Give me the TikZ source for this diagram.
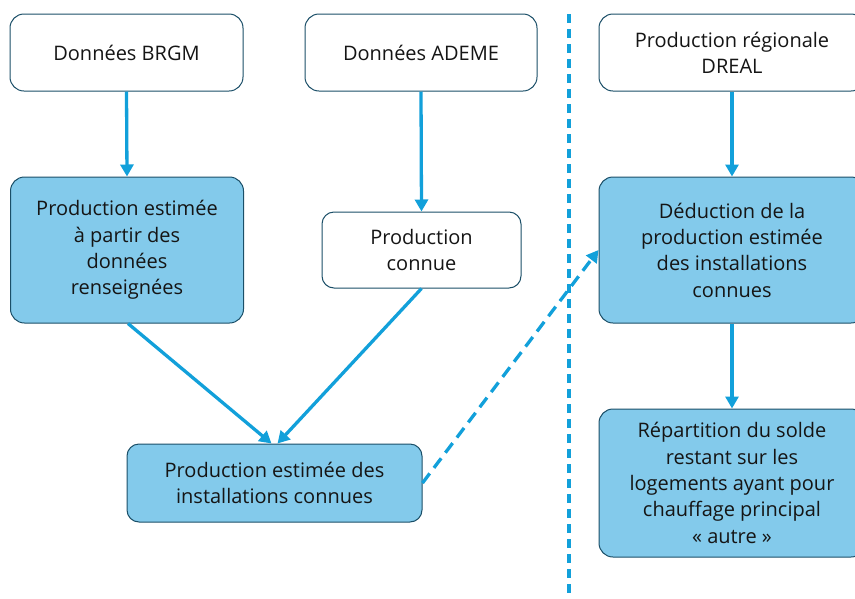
\documentclass[tikz,border=0pt]{standalone}
\usepackage{fontspec}
\setmainfont{Open Sans}
\usetikzlibrary{arrows.meta}
\definecolor{boxfill}{HTML}{83CAEB}
\definecolor{boxline}{HTML}{1B4F68}
\definecolor{arrowcol}{HTML}{12A0DA}
\definecolor{txt}{HTML}{151515}
\begin{document}
\begin{tikzpicture}[x=1pt,y=-1pt,
  box/.style={draw=boxline, line width=1pt, rounded corners=14pt, align=center,
    font=\fontsize{20}{26.3}\selectfont, text=txt, inner sep=0pt},
  plain/.style={box, fill=white},
  blue/.style={box, fill=boxfill},
  conn/.style={draw=arrowcol, line width=3.3pt, -{Triangle[length=12pt,width=13pt]}},
  dconn/.style={conn, dash pattern=on 12pt off 7pt},
  sep/.style={draw=arrowcol, line width=3.3pt, dash pattern=on 9pt off 6pt}]
\useasboundingbox (0,0) rectangle (855,598);
\node[plain, minimum width=233pt, minimum height=77pt] (brgm) at (126.5,52.5) {Données BRGM};
\node[plain, minimum width=232pt, minimum height=77pt] (ademe) at (421,52.5) {Données ADEME};
\node[plain, minimum width=266pt, minimum height=77pt] (dreal) at (732,52.5) {Production régionale\\DREAL};
\node[blue, minimum width=233pt, minimum height=146pt] (est) at (127,250) {Production estimée\\à partir des\\données\\renseignées};
\node[plain, minimum width=199pt, minimum height=76pt, rounded corners=12pt] (connue) at (421.5,250) {Production\\connue};
\node[blue, minimum width=295pt, minimum height=78pt, rounded corners=12pt] (bottom) at (274.5,483) {Production estimée des\\installations connues};
\node[blue, minimum width=266pt, minimum height=146pt] (deduc) at (732,250) {Déduction de la\\production estimée\\des installations\\connues};
\node[blue, minimum width=266pt, minimum height=148pt] (repart) at (732,483) {Répartition du solde\\restant sur les\\logements ayant pour\\chauffage principal\\« autre »};
\coordinate (septop) at (569,14);
\coordinate (sepbot) at (569,598);
\draw[sep] (septop) -- (sepbot);
\draw[conn] (brgm.south) -- (est.north);
\draw[conn] (ademe.south) -- (connue.north);
\draw[conn] (dreal.south) -- (deduc.north);
\draw[conn] (deduc.south) -- (repart.north);
\draw[conn] ([xshift=1pt]est.south) -- ([xshift=-3pt]bottom.north);
\draw[conn] (connue.south) -- ([xshift=3pt]bottom.north);
\draw[dconn] (bottom.east) -- (deduc.west);
\end{tikzpicture}
\end{document}
